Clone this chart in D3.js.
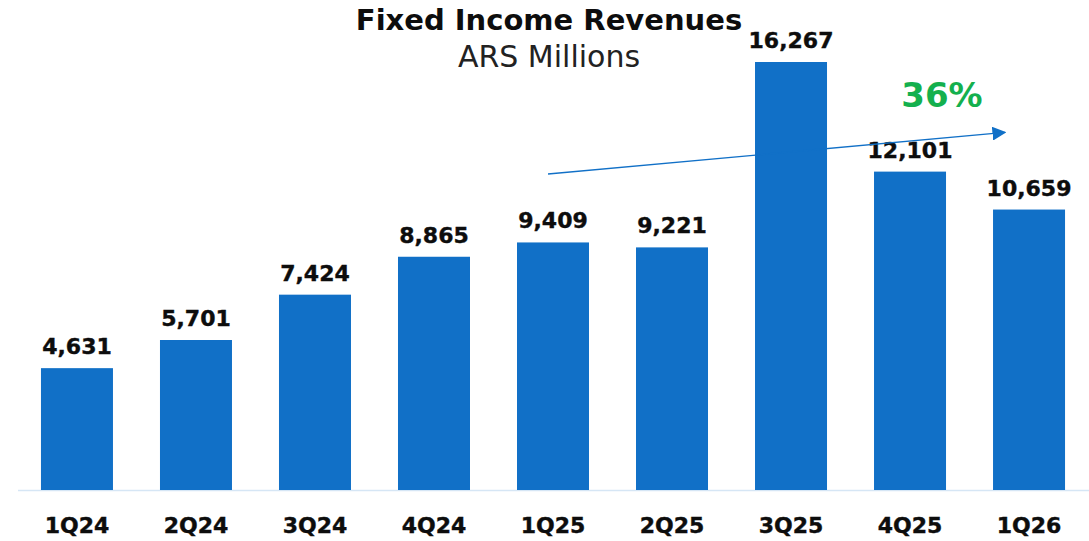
<!DOCTYPE html>
<html>
<head>
<meta charset="utf-8">
<script src="https://cdn.jsdelivr.net/npm/d3@7"></script>
<style>
  body { margin: 0; background: #fff; }
  text { font-family: "DejaVu Sans", sans-serif; }
</style>
</head>
<body>
<div id="chart"></div>
<script>
// data
var quarters = ["1Q24", "2Q24", "3Q24", "4Q24", "1Q25", "2Q25", "3Q25", "4Q25", "1Q26"];
var revenues = [4631, 5701, 7424, 8865, 9409, 9221, 16267, 12101, 10659];
var growthLabel = "36%";

var width = 1089, height = 541;

var svg = d3.select("#chart")
  .append("svg")
    .attr("width", width)
    .attr("height", height);

var x = d3.scaleBand()
  .domain(quarters)
  .range([18, 1088])
  .paddingInner(0.395)
  .paddingOuter(0.193);

var y = d3.scaleLinear()
  .domain([0, 16267])
  .range([490, 62]);

// baseline
svg.append("line")
  .attr("x1", 18).attr("x2", width)
  .attr("y1", y(0) + 0.5).attr("y2", y(0) + 0.5)
  .style("stroke", "#d6e6f5")
  .style("stroke-width", 1.5);

// bars
svg.append("g")
  .selectAll("rect")
  .data(revenues)
  .enter()
  .append("rect")
    .attr("x", function(d, i) { return x(quarters[i]); })
    .attr("y", function(d) { return y(d); })
    .attr("width", x.bandwidth())
    .attr("height", function(d) { return y(0) - y(d); })
    .style("fill", "#1170c7");

// value labels
svg.append("g")
  .selectAll("text")
  .data(revenues)
  .enter()
  .append("text")
    .attr("x", function(d, i) { return x(quarters[i]) + x.bandwidth() / 2; })
    .attr("y", function(d) { return y(d) - 14; })
    .attr("text-anchor", "middle")
    .style("font-size", "22px")
    .style("font-weight", "bold")
    .style("fill", "#0d0d0d")
    .style("stroke", "#0d0d0d")
    .style("stroke-width", 0.4)
    .text(function(d) { return d3.format(",")(d); });

// x axis labels
svg.append("g")
  .selectAll("text")
  .data(quarters)
  .enter()
  .append("text")
    .attr("x", function(d) { return x(d) + x.bandwidth() / 2; })
    .attr("y", 533)
    .attr("text-anchor", "middle")
    .style("font-size", "22px")
    .style("font-weight", "bold")
    .style("fill", "#0d0d0d")
    .style("stroke", "#0d0d0d")
    .style("stroke-width", 0.4)
    .text(function(d) { return d; });

// titles
svg.append("text")
  .attr("x", 549).attr("y", 30)
  .attr("text-anchor", "middle")
  .style("font-size", "29px")
  .style("font-weight", "bold")
  .style("fill", "#0d0d0d")
  .text("Fixed Income Revenues");

svg.append("text")
  .attr("x", 549).attr("y", 67)
  .attr("text-anchor", "middle")
  .style("font-size", "30px")
  .style("fill", "#222")
  .text("ARS Millions");

// trend arrow
svg.append("defs").append("marker")
  .attr("id", "head")
  .attr("viewBox", "0 0 10 10")
  .attr("refX", 9).attr("refY", 5)
  .attr("markerWidth", 14).attr("markerHeight", 14)
  .attr("markerUnits", "userSpaceOnUse")
  .attr("orient", "auto")
  .append("path")
    .attr("d", "M0,0 L10,5 L0,10 Z")
    .style("fill", "#1170c7");

var arrowStart = [x("1Q25") + 31, y(12011)];
var arrowEnd = [x("1Q26") + x.bandwidth() / 2 - 24, y(13590)];
svg.append("line")
  .attr("x1", arrowStart[0]).attr("y1", arrowStart[1])
  .attr("x2", arrowEnd[0]).attr("y2", arrowEnd[1])
  .style("stroke", "#1170c7")
  .style("stroke-width", 1.3)
  .attr("marker-end", "url(#head)");

svg.append("text")
  .attr("x", 942).attr("y", 107)
  .attr("text-anchor", "middle")
  .style("font-size", "34px")
  .style("font-weight", "bold")
  .style("fill", "#14b04e")
  .text(growthLabel);
</script>
</body>
</html>
